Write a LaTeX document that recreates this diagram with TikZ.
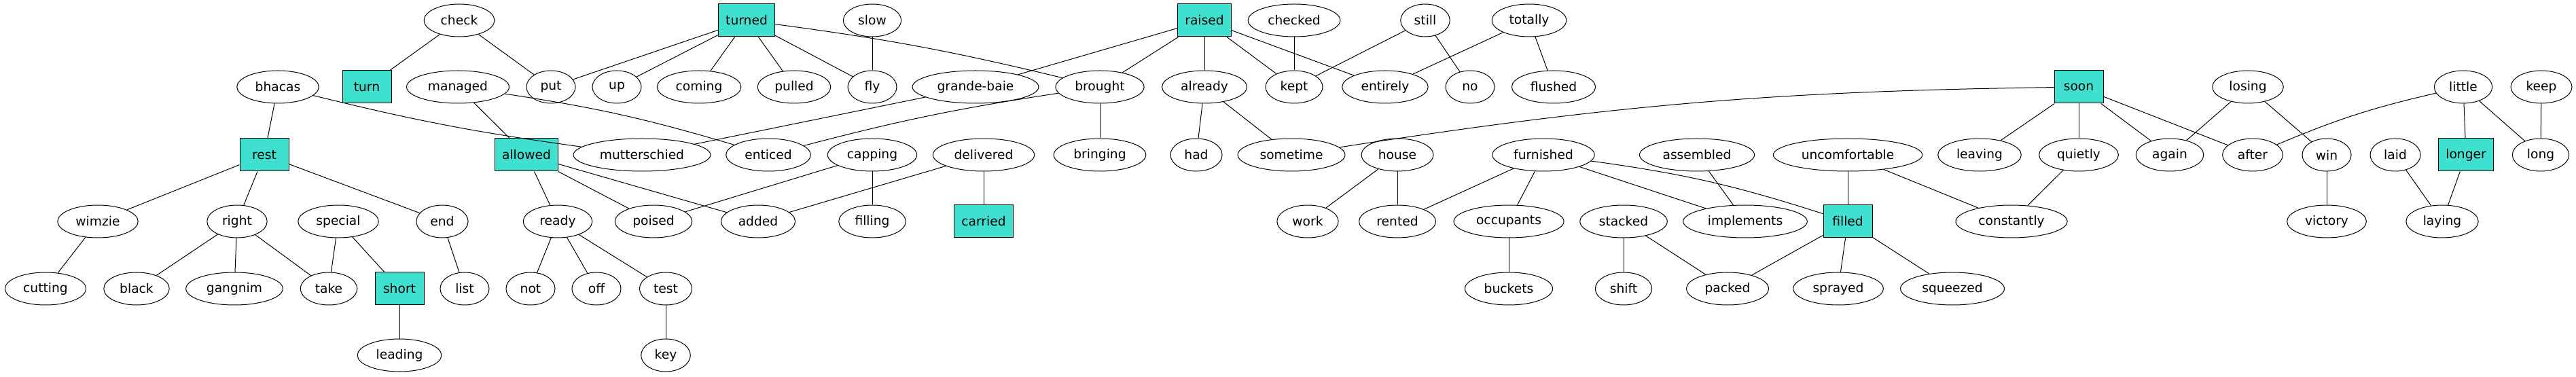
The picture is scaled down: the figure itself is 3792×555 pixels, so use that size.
\documentclass[tikz,border=0pt]{standalone}
\usepackage{fontspec}
\setmainfont{DejaVu Sans}
\usetikzlibrary{shapes.geometric}
\definecolor{turq}{HTML}{40E0D0}
\tikzset{
  ell/.style={ellipse, draw=black, line width=0.75pt, minimum width=54pt, minimum height=36pt, inner xsep=7pt, inner ysep=0pt, font=\fontsize{14pt}{16pt}\selectfont},
  bx/.style={rectangle, draw=black, fill=turq, line width=0.75pt, minimum width=54pt, minimum height=36pt, inner xsep=8pt, inner ysep=0pt, font=\fontsize{14pt}{16pt}\selectfont},
  lnk/.style={draw=black, line width=0.75pt}
}
\begin{document}
\begin{tikzpicture}[x=0.75pt,y=0.75pt]
\useasboundingbox (0,0) rectangle (3792,-555);
% row 0
\node[ell] (check) at (676,-30) {check};
\node[bx] (turned) at (1099,-30) {turned};
\node[ell] (slow) at (1284,-30) {slow};
\node[bx] (raised) at (1773,-30) {raised};
\node[ell] (checked) at (1905,-30) {checked};
\node[ell] (still) at (2098,-30) {still};
\node[ell] (totally) at (2251,-30) {totally};
% row 1
\node[ell] (bhacas) at (409,-128) {bhacas};
\node[bx] (turn) at (540,-128) {turn};
\node[ell] (managed) at (674,-128) {managed};
\node[ell] (put) at (811,-128) {put};
\node[ell] (up) at (908,-128) {up};
\node[ell] (coming) at (1029,-128) {coming};
\node[ell] (pulled) at (1169,-128) {pulled};
\node[ell] (fly) at (1284,-128) {fly};
\node[ell] (grandebaie) at (1436,-128) {grande-baie};
\node[ell] (brought) at (1619,-128) {brought};
\node[ell] (already) at (1773,-128) {already};
\node[ell] (kept) at (1905,-128) {kept};
\node[ell] (entirely) at (2039,-128) {entirely};
\node[ell] (no) at (2164,-128) {no};
\node[ell] (flushed) at (2287,-128) {flushed};
\node[bx] (soon) at (3060,-128) {soon};
\node[ell] (losing) at (3309,-128) {losing};
\node[ell] (little) at (3626,-128) {little};
\node[ell] (keep) at (3741,-128) {keep};
% row 2
\node[bx] (rest) at (389,-228) {rest};
\node[bx] (allowed) at (775,-228) {allowed};
\node[ell] (mutterschied) at (945,-228) {mutterschied};
\node[ell] (enticed) at (1131,-228) {enticed};
\node[ell] (capping) at (1284,-228) {capping};
\node[ell] (delivered) at (1448,-228) {delivered};
\node[ell] (bringing) at (1619,-228) {bringing};
\node[ell] (had) at (1761,-228) {had};
\node[ell] (sometime) at (1901,-228) {sometime};
\node[ell] (house) at (2057,-228) {house};
\node[ell] (furnished) at (2272,-228) {furnished};
\node[ell] (assembled) at (2498,-228) {assembled};
\node[ell] (uncomfortable) at (2720,-228) {uncomfortable};
\node[ell] (leaving) at (2914,-228) {leaving};
\node[ell] (quietly) at (3060,-228) {quietly};
\node[ell] (again) at (3194,-228) {again};
\node[ell] (after) at (3316,-228) {after};
\node[ell] (win) at (3425,-228) {win};
\node[ell] (laid) at (3526,-228) {laid};
\node[bx] (longer) at (3630,-228) {longer};
\node[ell] (long) at (3740,-228) {long};
% row 3
\node[ell] (wimzie) at (144,-326) {wimzie};
\node[ell] (right) at (349,-326) {right};
\node[ell] (special) at (498,-326) {special};
\node[ell] (end) at (651,-326) {end};
\node[ell] (ready) at (821,-326) {ready};
\node[ell] (poised) at (962,-326) {poised};
\node[ell] (added) at (1116,-326) {added};
\node[ell] (filling) at (1284,-326) {filling};
\node[bx] (carried) at (1448,-326) {carried};
\node[ell] (work) at (1925,-326) {work};
\node[ell] (rented) at (2057,-326) {rented};
\node[ell] (occupants) at (2221,-326) {occupants};
\node[ell] (stacked) at (2390,-326) {stacked};
\node[ell] (implements) at (2569,-326) {implements};
\node[bx] (filled) at (2720,-326) {filled};
\node[ell] (constantly) at (2961,-326) {constantly};
\node[ell] (victory) at (3425,-326) {victory};
\node[ell] (laying) at (3595,-326) {laying};
% row 4
\node[ell] (cutting) at (67,-425) {cutting};
\node[ell] (black) at (201,-425) {black};
\node[ell] (gangnim) at (345,-425) {gangnim};
\node[ell] (take) at (484,-425) {take};
\node[bx] (short) at (588,-425) {short};
\node[ell] (list) at (684,-425) {list};
\node[ell] (not) at (781,-425) {not};
\node[ell] (off) at (878,-425) {off};
\node[ell] (test) at (980,-425) {test};
\node[ell] (buckets) at (2221,-425) {buckets};
\node[ell] (shift) at (2390,-425) {shift};
\node[ell] (packed) at (2543,-425) {packed};
\node[ell] (sprayed) at (2706,-425) {sprayed};
\node[ell] (squeezed) at (2874,-425) {squeezed};
% row 5
\node[ell] (leading) at (588,-523) {leading};
\node[ell] (key) at (980,-523) {key};
% edges
\draw[lnk] (check) -- (turn);
\draw[lnk] (check) -- (put);
\draw[lnk] (turned) -- (put);
\draw[lnk] (turned) -- (up);
\draw[lnk] (turned) -- (coming);
\draw[lnk] (turned) -- (pulled);
\draw[lnk] (turned) -- (fly);
\draw[lnk] (turned) to[bend left=3] (brought);
\draw[lnk] (slow) -- (fly);
\draw[lnk] (bhacas) -- (rest);
\draw[lnk] (bhacas) to[bend right=3] (mutterschied);
\draw[lnk] (managed) -- (allowed);
\draw[lnk] (managed) to[bend left=4] (enticed);
\draw[lnk] (rest) -- (wimzie);
\draw[lnk] (rest) -- (right);
\draw[lnk] (rest) -- (end);
\draw[lnk] (wimzie) -- (cutting);
\draw[lnk] (right) -- (black);
\draw[lnk] (right) -- (gangnim);
\draw[lnk] (right) -- (take);
\draw[lnk] (special) -- (take);
\draw[lnk] (special) -- (short);
\draw[lnk] (end) -- (list);
\draw[lnk] (short) -- (leading);
\draw[lnk] (allowed) -- (ready);
\draw[lnk] (allowed) -- (poised);
\draw[lnk] (allowed) -- (added);
\draw[lnk] (ready) -- (not);
\draw[lnk] (ready) -- (off);
\draw[lnk] (ready) -- (test);
\draw[lnk] (test) -- (key);
\draw[lnk] (capping) -- (poised);
\draw[lnk] (capping) -- (filling);
\draw[lnk] (delivered) -- (added);
\draw[lnk] (delivered) -- (carried);
\draw[lnk] (grandebaie) -- (mutterschied);
\draw[lnk] (enticed) to[bend left=3] (brought);
\draw[lnk] (raised) -- (grandebaie);
\draw[lnk] (raised) -- (brought);
\draw[lnk] (raised) -- (already);
\draw[lnk] (raised) -- (kept);
\draw[lnk] (raised) -- (entirely);
\draw[lnk] (brought) -- (bringing);
\draw[lnk] (already) -- (had);
\draw[lnk] (already) -- (sometime);
\draw[lnk] (checked) -- (kept);
\draw[lnk] (still) -- (kept);
\draw[lnk] (still) -- (no);
\draw[lnk] (totally) -- (entirely);
\draw[lnk] (totally) -- (flushed);
\draw[lnk] (sometime) to[bend left=4] (soon);
\draw[lnk] (soon) -- (leaving);
\draw[lnk] (soon) -- (quietly);
\draw[lnk] (soon) -- (again);
\draw[lnk] (soon) -- (after);
\draw[lnk] (house) -- (work);
\draw[lnk] (house) -- (rented);
\draw[lnk] (furnished) -- (rented);
\draw[lnk] (furnished) -- (occupants);
\draw[lnk] (furnished) -- (implements);
\draw[lnk] (furnished) to[bend left=5] (filled);
\draw[lnk] (assembled) -- (implements);
\draw[lnk] (uncomfortable) -- (filled);
\draw[lnk] (uncomfortable) -- (constantly);
\draw[lnk] (quietly) -- (constantly);
\draw[lnk] (occupants) -- (buckets);
\draw[lnk] (stacked) -- (shift);
\draw[lnk] (stacked) -- (packed);
\draw[lnk] (filled) -- (packed);
\draw[lnk] (filled) -- (sprayed);
\draw[lnk] (filled) -- (squeezed);
\draw[lnk] (losing) -- (again);
\draw[lnk] (losing) -- (win);
\draw[lnk] (after) to[bend left=5] (little);
\draw[lnk] (little) -- (longer);
\draw[lnk] (little) -- (long);
\draw[lnk] (keep) -- (long);
\draw[lnk] (win) -- (victory);
\draw[lnk] (laid) -- (laying);
\draw[lnk] (longer) -- (laying);
\end{tikzpicture}
\end{document}
